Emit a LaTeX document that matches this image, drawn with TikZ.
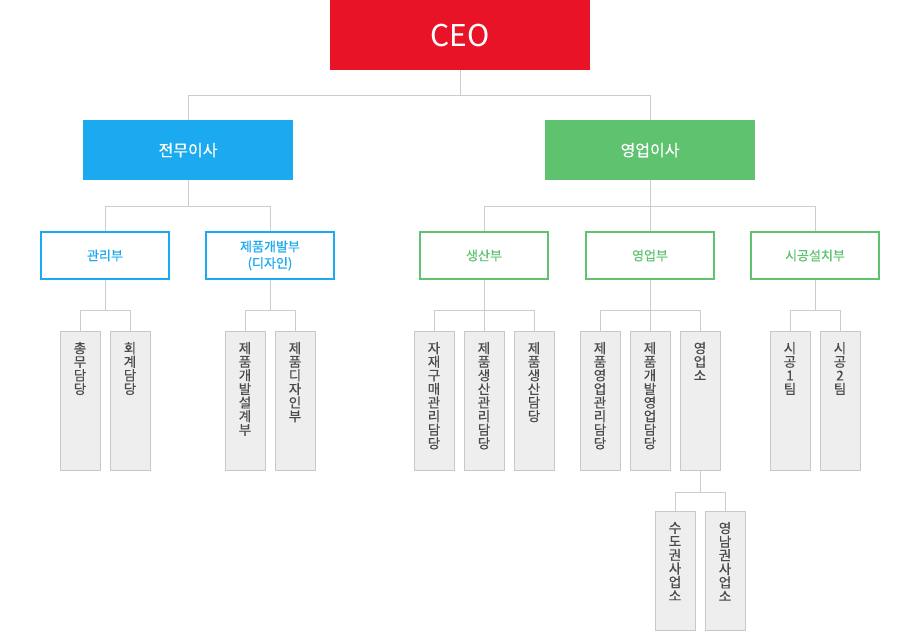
\documentclass[tikz,border=0pt]{standalone}
\usepackage{fontspec}
\setmainfont{Noto Sans CJK KR}
\newfontfamily\semib{Noto Sans CJK KR}[FakeBold=0.6]
\newfontfamily\semil{Noto Sans CJK KR}[FakeBold=0.35]
\definecolor{ceored}{HTML}{E81327}
\definecolor{dblue}{HTML}{1BAAF0}
\definecolor{dgreen}{HTML}{5EC26F}
\definecolor{lfill}{HTML}{EEEEEE}
\definecolor{lline}{HTML}{C8C8C8}
\definecolor{ltext}{HTML}{4A4A4A}
\definecolor{cline}{HTML}{CCCCCC}
\newcommand{\vt}[1]{\parbox[c][139pt][t]{40pt}{\centering\vspace*{11pt}#1}}
\newcommand{\vtb}[1]{\parbox[c][119pt][t]{40pt}{\centering\vspace*{11pt}#1}}
\tikzset{
  conn/.style={draw=cline, line width=1pt},
  ceobox/.style={fill=ceored, minimum width=260pt, minimum height=70pt, inner sep=0pt, text=white, font=\fontsize{30}{36}\selectfont, anchor=north},
  dirbox/.style={fill=#1, minimum width=210pt, minimum height=60pt, inner sep=0pt, text=white, font=\semil\fontsize{16}{20}\selectfont, anchor=north},
  deptbox/.style={draw=#1, line width=2pt, fill=white, minimum width=128pt, minimum height=47pt, inner sep=0pt, text=#1, font=\semib\fontsize{13}{16.5}\selectfont, align=center, anchor=north},
  leafbox/.style={draw=lline, line width=1pt, fill=lfill, minimum width=39pt, inner sep=0pt, text=ltext, font=\semil\fontsize{13.5}{13.6}\selectfont, anchor=north},
}
\begin{document}
\begin{tikzpicture}[x=1pt,y=-1pt]
\path[use as bounding box] (0,0) rectangle (920,630);
% level 0
\node[ceobox] (ceo) at (460,0) {CEO};
% level 1
\node[dirbox=dblue] (jm) at (188,120) {전무이사};
\node[dirbox=dgreen] (ym) at (650,120) {영업이사};
% level 2
\node[deptbox=dblue] (gr) at (105,231) {관리부};
\node[deptbox=dblue] (jd) at (270,231) {제품개발부\\(디자인)};
\node[deptbox=dgreen] (ss) at (484,231) {생산부};
\node[deptbox=dgreen] (yb) at (650,231) {영업부};
\node[deptbox=dgreen] (sg) at (815,231) {시공설치부};
% level 3
\node[leafbox] (l1) at (80,330.5) {\vt{총\\무\\담\\당}};
\node[leafbox] (l2) at (130,330.5) {\vt{회\\계\\담\\당}};
\node[leafbox] (l3) at (245,330.5) {\vt{제\\품\\개\\발\\설\\계\\부}};
\node[leafbox] (l4) at (295,330.5) {\vt{제\\품\\디\\자\\인\\부}};
\node[leafbox] (l5) at (434,330.5) {\vt{자\\재\\구\\매\\관\\리\\담\\당}};
\node[leafbox] (l6) at (484,330.5) {\vt{제\\품\\생\\산\\관\\리\\담\\당}};
\node[leafbox] (l7) at (534,330.5) {\vt{제\\품\\생\\산\\담\\당}};
\node[leafbox] (l8) at (600,330.5) {\vt{제\\품\\영\\업\\관\\리\\담\\당}};
\node[leafbox] (l9) at (650,330.5) {\vt{제\\품\\개\\발\\영\\업\\담\\당}};
\node[leafbox] (l10) at (700,330.5) {\vt{영\\업\\소}};
\node[leafbox] (l11) at (790,330.5) {\vt{시\\공\\1\\팀}};
\node[leafbox] (l12) at (840,330.5) {\vt{시\\공\\2\\팀}};
% level 4
\node[leafbox] (m1) at (675,510.5) {\vtb{수\\도\\권\\사\\업\\소}};
\node[leafbox] (m2) at (725,510.5) {\vtb{영\\남\\권\\사\\업\\소}};
% connectors
\draw[conn] (ceo.south) -- (ceo.south |- 0,95);
\draw[conn] (jm.north) -- (jm.north |- 0,95) -| (ym.north);
\draw[conn] (jm.south) -- (jm.south |- 0,206);
\draw[conn] (gr.north) -- (gr.north |- 0,206) -| (jd.north);
\draw[conn] (ym.south) -- (yb.north);
\draw[conn] (ss.north) -- (ss.north |- 0,206) -| (sg.north);
\draw[conn] (gr.south) -- (gr.south |- 0,310);
\draw[conn] (l1.north) -- (l1.north |- 0,310) -| (l2.north);
\draw[conn] (jd.south) -- (jd.south |- 0,310);
\draw[conn] (l3.north) -- (l3.north |- 0,310) -| (l4.north);
\draw[conn] (ss.south) -- (l6.north);
\draw[conn] (l5.north) -- (l5.north |- 0,310) -| (l7.north);
\draw[conn] (yb.south) -- (l9.north);
\draw[conn] (l8.north) -- (l8.north |- 0,310) -| (l10.north);
\draw[conn] (sg.south) -- (sg.south |- 0,310);
\draw[conn] (l11.north) -- (l11.north |- 0,310) -| (l12.north);
\draw[conn] (l10.south) -- (l10.south |- 0,492);
\draw[conn] (m1.north) -- (m1.north |- 0,492) -| (m2.north);
\end{tikzpicture}
\end{document}
